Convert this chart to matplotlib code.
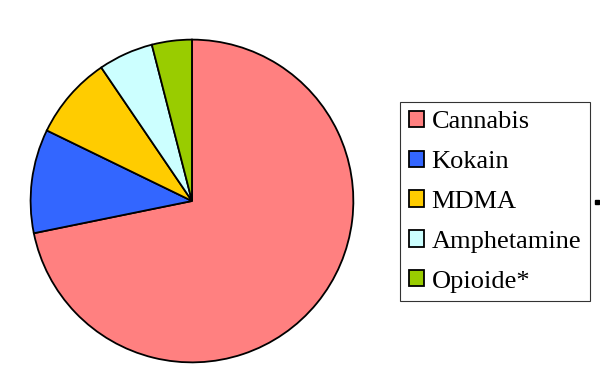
import matplotlib
matplotlib.use("Agg")
import matplotlib.pyplot as plt
from matplotlib.patches import Rectangle, Patch

labels = ["Cannabis", "Kokain", "MDMA", "Amphetamine", "Opioide*"]
values = [71.8, 10.4, 8.3, 5.5, 4.0]
colors = ["#ff8080", "#3366ff", "#ffcc00", "#ccffff", "#99cc00"]

fig = plt.figure(figsize=(6.0, 3.89), dpi=100)
ax = fig.add_axes([0.0483, 0.0643, 0.5433, 0.838])
ax.pie(values, colors=colors, startangle=90, counterclock=False,
       wedgeprops=dict(edgecolor="black", linewidth=1.3))
ax.set_xlim(-1.01, 1.01)
ax.set_ylim(-1.01, 1.01)
ax.set_aspect("equal")

handles = [Patch(facecolor=c, edgecolor="black", linewidth=1.3) for c in colors]
leg = fig.legend(handles, labels, loc="upper left",
                 bbox_to_anchor=(400/600, 1 - 102/389),
                 prop=dict(family="Liberation Serif", size=19),
                 frameon=True, fancybox=False, edgecolor="black",
                 handlelength=0.57, handleheight=0.57, handletextpad=0.3,
                 labelspacing=0.66, borderpad=0.33, borderaxespad=0)
leg.get_frame().set_linewidth(0.8)

fig.add_artist(Rectangle((595/600, 1 - 204/389), 4/600, 4/389,
                         transform=fig.transFigure, color="black", zorder=10))

fig.savefig("out.png", dpi=100)
